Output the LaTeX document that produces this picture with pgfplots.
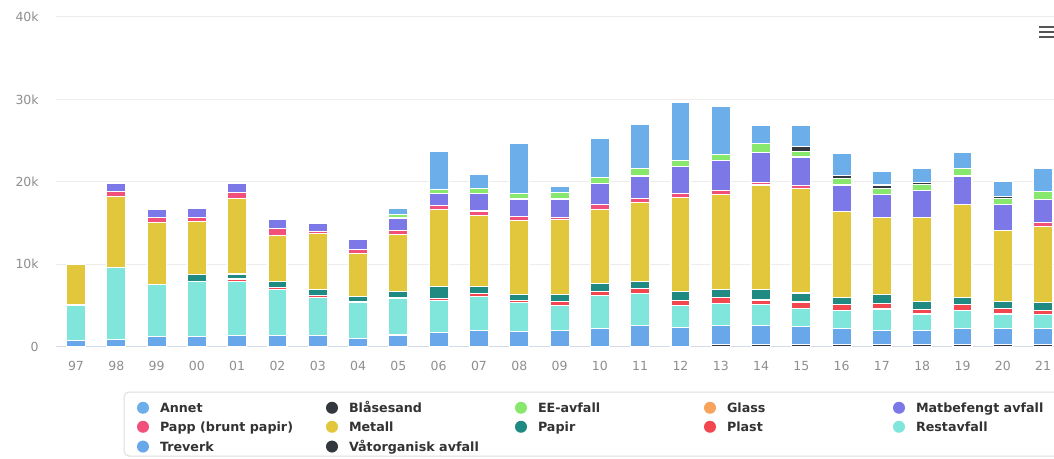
\documentclass[border=0pt]{standalone}
\usepackage{fontspec}
\setmainfont{DejaVu Sans}
\usepackage{pgfplots}
\pgfplotsset{compat=1.18}
\usepackage{pgfplotstable}

\definecolor{cAnnet}{HTML}{6CAEEA}
\definecolor{cBlas}{HTML}{33383F}
\definecolor{cEE}{HTML}{88E86E}
\definecolor{cGlass}{HTML}{F7A35C}
\definecolor{cMatb}{HTML}{7C78E8}
\definecolor{cPapp}{HTML}{F0507A}
\definecolor{cMetall}{HTML}{E2C63C}
\definecolor{cPapir}{HTML}{1F8A82}
\definecolor{cPlast}{HTML}{F2474F}
\definecolor{cRest}{HTML}{80E6DC}
\definecolor{cTre}{HTML}{68A8EA}
\definecolor{cVat}{HTML}{33383F}
\definecolor{gridc}{HTML}{EDEDED}
\definecolor{axisc}{HTML}{D3DAE8}
\definecolor{tickc}{HTML}{8E8E8E}
\definecolor{legtext}{HTML}{333333}
\definecolor{legbox}{HTML}{DDDDDD}
\definecolor{hamb}{HTML}{555555}

\pgfplotstableread{
x vat tre rest plast papir metall papp matb glass ee blas annet
0 0 700 4300 0 150 4850 0 0 0 0 0 0
1 0 800 8800 0 0 8600 650 950 0 0 0 0
2 0 1200 6300 0 0 7500 700 950 0 0 0 0
3 0 1200 6700 0 800 6500 500 1100 0 0 0 0
4 0 1300 6600 300 600 9200 650 1150 0 0 0 0
5 0 1300 5600 250 750 5600 800 1100 0 0 0 0
6 0 1300 4600 300 700 6800 300 900 0 0 0 0
7 0 1000 4400 0 700 5200 450 1250 0 0 0 0
8 0 1400 4400 200 700 6900 500 1500 0 400 0 800
9 0 1700 3900 200 1500 9300 500 1450 0 500 0 4650
10 0 1900 4200 350 850 8600 550 2100 0 600 0 1750
11 0 1800 3500 300 700 9050 450 2100 0 650 0 6100
12 0 1900 3100 500 800 9100 300 2200 0 800 0 700
13 0 2200 3950 550 900 9050 600 2550 0 700 0 4700
14 0 2600 3800 600 900 9550 550 2700 0 950 0 5350
15 0 2300 2700 600 1100 11350 500 3250 0 800 0 7050
16 250 2250 2750 650 1000 11600 450 3600 0 800 0 5750
17 250 2250 2550 600 1250 12700 300 3650 0 1100 0 2150
18 250 2200 2200 750 1100 12700 300 3500 0 650 600 2550
19 250 1950 2150 700 850 10450 0 3250 0 800 350 2700
20 250 1650 2650 700 1050 9400 0 2800 0 700 400 1700
21 250 1650 2050 550 950 10250 0 3200 0 800 250 1650
22 250 1950 2150 700 950 11250 0 3450 0 900 0 1950
23 250 1950 1750 700 800 8650 0 3100 0 750 300 1750
24 250 1950 1650 500 1000 9250 500 2750 0 950 0 2800
}\data

\newcommand{\legentry}[1]{\makebox[166pt][l]{\rule[-3pt]{0pt}{13.5pt}#1}}
\newcommand{\legimg}[1]{\addlegendimage{legend image code/.code={\fill[#1,draw=none] (6pt,4.5pt) circle (6pt);}}}

\begin{document}
\begin{tikzpicture}
\path[use as bounding box] (0pt,0pt) rectangle (1054pt,458pt);
\begin{axis}[
  at={(55.85pt,111.5pt)}, anchor=south west,
  scale only axis, width=998.15pt, height=329.5pt,
  xmin=-0.5, xmax=24.27, ymin=0, ymax=40000,
  ybar stacked, bar width=19pt,
  xtick={0,...,24},
  xticklabels={97,98,99,00,01,02,03,04,05,06,07,08,09,10,11,12,13,14,15,16,17,18,19,20,21},
  ytick={0,10000,20000,30000,40000},
  yticklabels={0,10k,20k,30k,40k},
  scaled y ticks=false,
  ymajorgrids, major grid style={draw=gridc, line width=1pt},
  axis x line*=bottom, axis y line*=left,
  y axis line style={draw=none},
  x axis line style={draw=axisc, line width=1pt},
  major tick length=0pt, tick style={draw=none},
  xticklabel style={font=\fontsize{12.5pt}{14pt}\selectfont, text=tickc, inner sep=0pt, anchor=north, yshift=-15pt},
  yticklabel style={font=\fontsize{12.5pt}{14pt}\selectfont, text=tickc, inner sep=0pt, anchor=east, xshift=-17pt},
  legend style={at={(axis description cs:0.0813,-0.1654)}, anchor=north west,
    draw=none, fill=none, inner sep=0pt, outer sep=0pt,
    row sep=7pt, column sep=0pt,
    nodes={inner sep=0pt, outer sep=0pt},
    /tikz/every odd column/.append style={column sep=11pt},
    cells={anchor=base west},
    font=\bfseries\fontsize{12.7pt}{15pt}\selectfont, text=legtext},
  legend columns=5,
]
\addplot[fill=cVat, draw=white, line width=1.1pt, forget plot] table[x=x,y=vat]{\data};
\addplot[fill=cTre, draw=white, line width=1.1pt, forget plot] table[x=x,y=tre]{\data};
\addplot[fill=cRest, draw=white, line width=1.1pt, forget plot] table[x=x,y=rest]{\data};
\addplot[fill=cPlast, draw=white, line width=1.1pt, forget plot] table[x=x,y=plast]{\data};
\addplot[fill=cPapir, draw=white, line width=1.1pt, forget plot] table[x=x,y=papir]{\data};
\addplot[fill=cMetall, draw=white, line width=1.1pt, forget plot] table[x=x,y=metall]{\data};
\addplot[fill=cPapp, draw=white, line width=1.1pt, forget plot] table[x=x,y=papp]{\data};
\addplot[fill=cMatb, draw=white, line width=1.1pt, forget plot] table[x=x,y=matb]{\data};
\addplot[fill=cGlass, draw=white, line width=1.1pt, forget plot] table[x=x,y=glass]{\data};
\addplot[fill=cEE, draw=white, line width=1.1pt, forget plot] table[x=x,y=ee]{\data};
\addplot[fill=cBlas, draw=white, line width=1.1pt, forget plot] table[x=x,y=blas]{\data};
\addplot[fill=cAnnet, draw=white, line width=1.1pt, forget plot] table[x=x,y=annet]{\data};

\legimg{cAnnet}\addlegendentry{\legentry{Annet}}
\legimg{cBlas}\addlegendentry{\legentry{Blåsesand}}
\legimg{cEE}\addlegendentry{\legentry{EE-avfall}}
\legimg{cGlass}\addlegendentry{\legentry{Glass}}
\legimg{cMatb}\addlegendentry{\legentry{Matbefengt avfall}}
\legimg{cPapp}\addlegendentry{\legentry{Papp (brunt papir)}}
\legimg{cMetall}\addlegendentry{\legentry{Metall}}
\legimg{cPapir}\addlegendentry{\legentry{Papir}}
\legimg{cPlast}\addlegendentry{\legentry{Plast}}
\legimg{cRest}\addlegendentry{\legentry{Restavfall}}
\legimg{cTre}\addlegendentry{\legentry{Treverk}}
\legimg{cVat}\addlegendentry{\legentry{Våtorganisk avfall}}
\end{axis}
\draw[legbox, line width=1pt, rounded corners=5pt] (124pt,2pt) rectangle (1062pt,66pt);
\draw[hamb, line width=2.5pt] (1039pt,431pt) -- (1058pt,431pt);
\draw[hamb, line width=2.5pt] (1039pt,426pt) -- (1058pt,426pt);
\draw[hamb, line width=2.5pt] (1039pt,421pt) -- (1058pt,421pt);
\end{tikzpicture}
\end{document}
